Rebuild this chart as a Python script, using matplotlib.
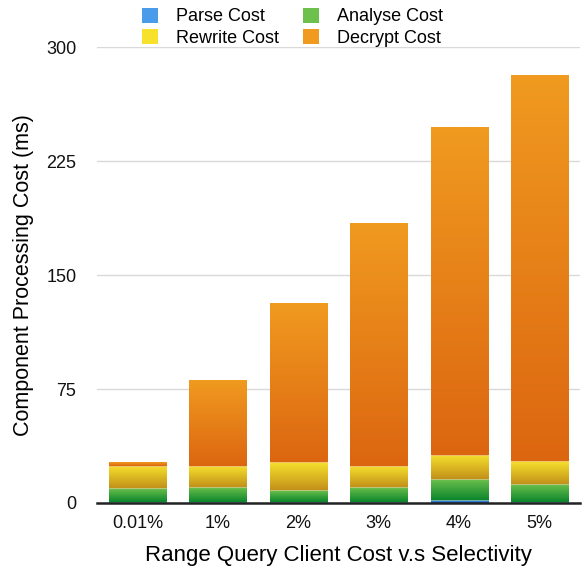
import numpy as np
import matplotlib.pyplot as plt
from matplotlib.colors import to_rgb
from matplotlib.patches import Patch

plt.rcParams['font.family'] = ['Liberation Sans', 'DejaVu Sans']

selectivity = ['0.01%', '1%', '2%', '3%', '4%', '5%']
parse_cost = [0.9, 0.9, 0.9, 0.9, 2.0, 0.9]
analyse_cost = [9.1, 9.6, 7.8, 9.6, 13.6, 11.8]
rewrite_cost = [14.5, 14.0, 18.3, 14.0, 16.2, 14.9]
decrypt_cost = [2.5, 56.4, 104.6, 159.9, 215.8, 254.2]

series = [
    ('Parse Cost', parse_cost, ('#4A9BEA', '#1A5FC0')),
    ('Analyse Cost', analyse_cost, ('#6CC04C', '#0C862C')),
    ('Rewrite Cost', rewrite_cost, ('#F6E22C', '#C3911A')),
    ('Decrypt Cost', decrypt_cost, ('#F09A20', '#DC6610')),
]

fig = plt.figure(figsize=(5.85, 5.74), dpi=100)
ax = fig.add_axes([0.166, 0.1237, 0.825, 0.7943])

x = np.arange(len(selectivity))
width = 0.71
bottom = np.zeros(len(x))


def fill_gradient(ax, patch, top_col, bot_col):
    # vertical gradient, lighter on top, clipped to the bar
    t = np.linspace(0, 1, 64)[:, None]
    c0, c1 = np.array(to_rgb(top_col)), np.array(to_rgb(bot_col))
    img = (c0 * (1 - t) + c1 * t)[:, None, :]
    x0, y0 = patch.get_x(), patch.get_y()
    w, h = patch.get_width(), patch.get_height()
    im = ax.imshow(img, extent=(x0, x0 + w, y0, y0 + h), origin='upper',
                   aspect='auto', interpolation='bilinear', zorder=2)
    im.set_clip_path(patch)


handles = []
for name, vals, (c_top, c_bot) in series:
    bars = ax.bar(x, vals, width, bottom=bottom, color=c_bot,
                  edgecolor=(1, 1, 1, 0.35), linewidth=0.8, zorder=2)
    for p in bars:
        fill_gradient(ax, p, c_top, c_bot)
    bottom += np.array(vals)
    handles.append(Patch(facecolor=c_top, edgecolor='none', label=name))

ax.set_xlim(-0.5, len(x) - 0.5)
ax.set_ylim(0, 300)
ax.set_yticks([0, 75, 150, 225, 300])
ax.set_xticks(x)
ax.set_xticklabels(selectivity)
ax.yaxis.grid(True, color='#D9D9D9', linewidth=1)
ax.set_axisbelow(True)

for s in ['top', 'right', 'left']:
    ax.spines[s].set_visible(False)
ax.spines['bottom'].set_color('#222222')
ax.spines['bottom'].set_linewidth(1.8)
ax.spines['bottom'].set_zorder(5)
ax.tick_params(axis='both', length=0, labelsize=13, colors='#111111')
ax.tick_params(axis='y', pad=15)
ax.tick_params(axis='x', pad=9)

ax.set_ylabel('Component Processing Cost (ms)', fontsize=15.5, labelpad=9)
ax.set_xlabel('Range Query Client Cost v.s Selectivity', fontsize=16, labelpad=9)

order = [handles[0], handles[2], handles[1], handles[3]]
fig.legend(handles=order, labels=[h.get_label() for h in order], ncol=2,
           loc='upper center', bbox_to_anchor=(0.5, 1.015), frameon=False,
           fontsize=13, handlelength=0.9, handleheight=0.9,
           columnspacing=1.3, labelspacing=0.2, handletextpad=1.0)

fig.savefig('out.png', dpi=100)
